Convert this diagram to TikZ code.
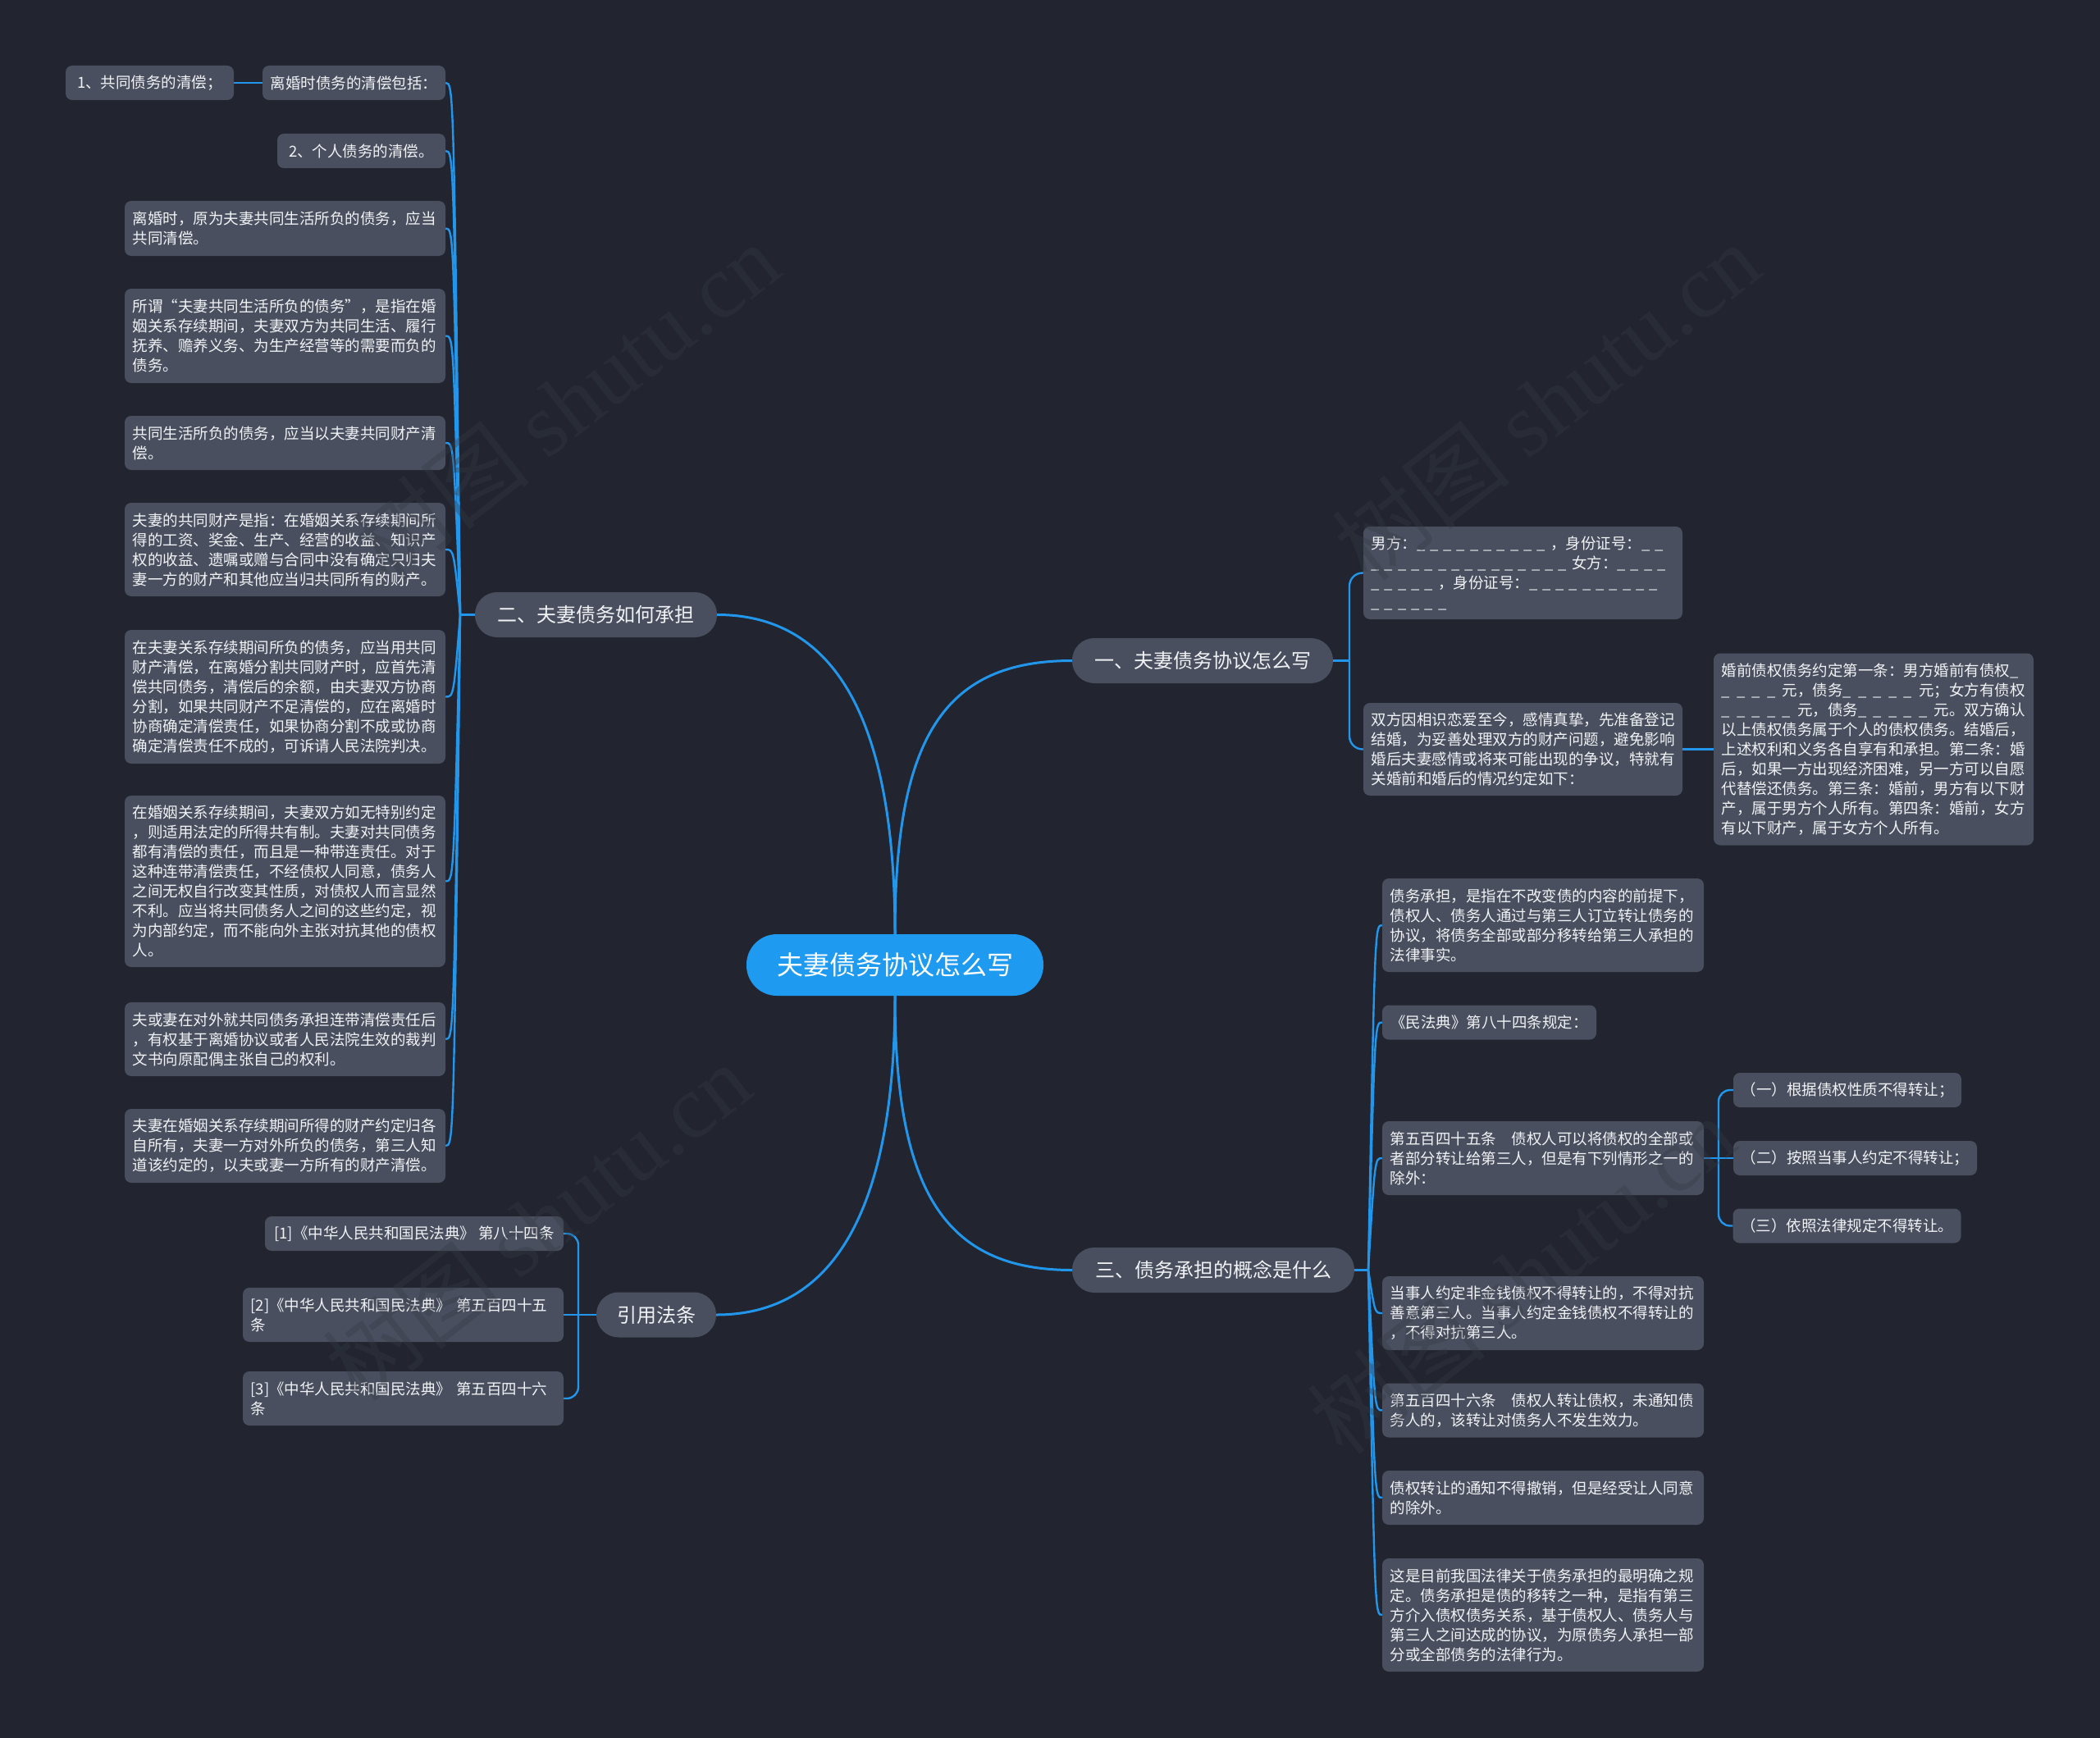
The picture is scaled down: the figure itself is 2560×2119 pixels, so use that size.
\documentclass[tikz,border=0pt]{standalone}
\usepackage{fontspec}
\setmainfont{Noto Sans CJK SC}
\newfontfamily\wmserif{Liberation Serif}
\usetikzlibrary{calc}
\definecolor{bgc}{RGB}{34,37,48}
\definecolor{leafc}{RGB}{73,79,94}
\definecolor{ctrc}{RGB}{30,155,240}
\definecolor{linec}{RGB}{33,150,235}
\definecolor{txtc}{RGB}{240,242,245}
\definecolor{wmc}{RGB}{54,58,70}
\newcommand{\blka}{\makebox[16.3pt][l]{\_}}
\newcommand{\blkaV}{\blka\blka\blka\blka\blka}
\newcommand{\blkc}{\makebox[18.5pt][l]{\_}}
\newcommand{\blkcV}{\blkc\blkc\blkc\blkc\blkc}
\begin{document}
\begin{tikzpicture}[x=1pt,y=-1pt,
  leaf/.style={fill=leafc, rounded corners=8pt, text=txtc, inner xsep=9.5pt, inner ysep=0pt, align=left, font=\fontsize{18.5}{24}\selectfont},
  branch/.style={fill=leafc, rounded corners=27pt, text=txtc, inner sep=0pt, font=\fontsize{24}{28}\selectfont, minimum height=55pt},
  conn/.style={draw=linec, line width=2.4pt},
  mainconn/.style={draw=linec, line width=3pt},
  wm/.style={text=wmc, opacity=0.35, rotate=38, font=\fontsize{110}{120}\selectfont}
]
\useasboundingbox (0,0) rectangle (2560,2119);
\fill[bgc] (0,0) rectangle (2560,2119);

% centre and branches
\node[fill=ctrc, rounded corners=37pt, text=white, inner sep=0pt, minimum width=362pt, minimum height=75pt, font=\fontsize{32}{36}\selectfont] (ctr) at (1091,1176.5) {夫妻债务协议怎么写};
\node[branch, minimum width=295pt] (b2) at (726.5,749.5) {二、夫妻债务如何承担};
\node[branch, minimum width=318pt] (b1) at (1466,805.5) {一、夫妻债务协议怎么写};
\node[branch, minimum width=344pt] (b3) at (1479,1548.5) {三、债务承担的概念是什么};
\node[branch, minimum width=146pt] (bref) at (800,1603) {引用法条};

% left leaves
\node[leaf, minimum width=223pt, minimum height=42pt] (l1) at (431.5,101) {离婚时债务的清偿包括：};
\node[leaf, minimum width=205pt, minimum height=42pt] (l0) at (182.5,101) {1、共同债务的清偿；};
\node[leaf, minimum width=205pt, minimum height=42pt] (l2) at (440.5,184) {2、个人债务的清偿。};
\node[leaf, text width=372pt, minimum height=67pt] (l3) at (347.5,278.5) {离婚时，原为夫妻共同生活所负的债务，应当\\共同清偿。};
\node[leaf, text width=372pt, minimum height=115pt] (l4) at (347.5,409.5) {所谓“夫妻共同生活所负的债务”，是指在婚\\姻关系存续期间，夫妻双方为共同生活、履行\\抚养、赡养义务、为生产经营等的需要而负的\\债务。};
\node[leaf, text width=372pt, minimum height=66pt] (l5) at (347.5,540) {共同生活所负的债务，应当以夫妻共同财产清\\偿。};
\node[leaf, text width=372pt, minimum height=114pt] (l6) at (347.5,670) {夫妻的共同财产是指：在婚姻关系存续期间所\\得的工资、奖金、生产、经营的收益、知识产\\权的收益、遗嘱或赠与合同中没有确定只归夫\\妻一方的财产和其他应当归共同所有的财产。};
\node[leaf, text width=372pt, minimum height=163pt] (l7) at (347.5,849.5) {在夫妻关系存续期间所负的债务，应当用共同\\财产清偿，在离婚分割共同财产时，应首先清\\偿共同债务，清偿后的余额，由夫妻双方协商\\分割，如果共同财产不足清偿的，应在离婚时\\协商确定清偿责任，如果协商分割不成或协商\\确定清偿责任不成的，可诉请人民法院判决。};
\node[leaf, text width=372pt, minimum height=209pt] (l8) at (347.5,1074.5) {在婚姻关系存续期间，夫妻双方如无特别约定\\，则适用法定的所得共有制。夫妻对共同债务\\都有清偿的责任，而且是一种带连责任。对于\\这种连带清偿责任，不经债权人同意，债务人\\之间无权自行改变其性质，对债权人而言显然\\不利。应当将共同债务人之间的这些约定，视\\为内部约定，而不能向外主张对抗其他的债权\\人。};
\node[leaf, text width=372pt, minimum height=90pt] (l9) at (347.5,1267) {夫或妻在对外就共同债务承担连带清偿责任后\\，有权基于离婚协议或者人民法院生效的裁判\\文书向原配偶主张自己的权利。};
\node[leaf, text width=372pt, minimum height=90pt] (l10) at (347.5,1397) {夫妻在婚姻关系存续期间所得的财产约定归各\\自所有，夫妻一方对外所负的债务，第三人知\\道该约定的，以夫或妻一方所有的财产清偿。};

% branch one leaves
\node[leaf, text width=370pt, minimum height=113pt] (a1) at (1856.5,698.5) {男方：\blkaV\blkaV{}，身份证号：\blka\blka\\\blkaV\blkaV\blkaV{}女方：\blka\blka\blka\blka\\\blkaV{}，身份证号：\blkaV\blkaV\\\blkaV\blka};
\node[leaf, text width=370pt, minimum height=113pt] (a2) at (1856.5,913.5) {双方因相识恋爱至今，感情真挚，先准备登记\\结婚，为妥善处理双方的财产问题，避免影响\\婚后夫妻感情或将来可能出现的争议，特就有\\关婚前和婚后的情况约定如下：};
\node[leaf, text width=371pt, minimum height=234pt] (a3) at (2284,913.5) {婚前债权债务约定第一条：男方婚前有债权\blkc\\\blkc\blkc\blkc\blkc{}元，债务\blkcV{}元；女方有债权\\\blkcV{}元，债务\blkcV{}元。双方确认\\以上债权债务属于个人的债权债务。结婚后，\\上述权利和义务各自享有和承担。第二条：婚\\后，如果一方出现经济困难，另一方可以自愿\\代替偿还债务。第三条：婚前，男方有以下财\\产，属于男方个人所有。第四条：婚前，女方\\有以下财产，属于女方个人所有。};

% branch three leaves
\node[leaf, text width=373pt, minimum height=114pt] (s1) at (1881,1128) {债务承担，是指在不改变债的内容的前提下，\\债权人、债务人通过与第三人订立转让债务的\\协议，将债务全部或部分移转给第三人承担的\\法律事实。};
\node[leaf, minimum width=261pt, minimum height=42pt] (s2) at (1815.5,1246.5) {《民法典》第八十四条规定：};
\node[leaf, text width=373pt, minimum height=90pt] (s3) at (1881,1412) {第五百四十五条　债权人可以将债权的全部或\\者部分转让给第三人，但是有下列情形之一的\\除外：};
\node[leaf, text width=373pt, minimum height=90pt] (s4) at (1881,1601) {当事人约定非金钱债权不得转让的，不得对抗\\善意第三人。当事人约定金钱债权不得转让的\\，不得对抗第三人。};
\node[leaf, text width=373pt, minimum height=66pt] (s5) at (1881,1719.5) {第五百四十六条　债权人转让债权，未通知债\\务人的，该转让对债务人不发生效力。};
\node[leaf, text width=373pt, minimum height=66pt] (s6) at (1881,1826) {债权转让的通知不得撤销，但是经受让人同意\\的除外。};
\node[leaf, text width=373pt, minimum height=138pt] (s7) at (1881,1969) {这是目前我国法律关于债务承担的最明确之规\\定。债务承担是债的移转之一种，是指有第三\\方介入债权债务关系，基于债权人、债务人与\\第三人之间达成的协议，为原债务人承担一部\\分或全部债务的法律行为。};

\node[leaf, minimum width=278pt, minimum height=42pt] (g1) at (2252,1329) {（一）根据债权性质不得转让；};
\node[leaf, minimum width=297pt, minimum height=42pt] (g2) at (2261.5,1412) {（二）按照当事人约定不得转让；};
\node[leaf, minimum width=277pt, minimum height=42pt] (g3) at (2251.5,1494.5) {（三）依照法律规定不得转让。};

% references
\node[leaf, minimum width=364pt, minimum height=42pt] (r1) at (505,1504) {[1]《中华人民共和国民法典》~第八十四条};
\node[leaf, text width=372pt, minimum height=66pt] (r2) at (491.5,1603) {[2]《中华人民共和国民法典》~第五百四十五\\条};
\node[leaf, text width=372pt, minimum height=66pt] (r3) at (491.5,1705) {[3]《中华人民共和国民法典》~第五百四十六\\条};

% main connectors
\draw[mainconn] (ctr.north) .. controls (1091,900) and (1030,749.5) .. (b2.east);
\draw[mainconn] (ctr.north) .. controls (1091,900) and (1150,805.5) .. (b1.west);
\draw[mainconn] (ctr.south) .. controls (1091,1450) and (1150,1548.5) .. (b3.west);
\draw[mainconn] (ctr.south) .. controls (1091,1450) and (1030,1603) .. (bref.east);

% branch two connectors
\coordinate (J2) at (561,749.5);
\coordinate (K2) at (553,749.5);
\draw[conn] (b2.west) -- (J2);
\foreach \n in {l1,l2,l3,l4,l5,l6,l7,l8,l9,l10}
  \draw[conn] (J2) .. controls (K2 |- \n.east) .. (\n.east);
\draw[conn] (l1.west) -- (l0.east);

% branch one connectors
\coordinate (J1) at (1645,805.5);
\draw[conn] (b1.east) -- (J1);
\draw[conn, rounded corners=16pt] (J1) |- (a1.west);
\draw[conn, rounded corners=16pt] (J1) |- (a2.west);
\draw[conn] (a2.east) -- (a3.west);

% branch three connectors
\coordinate (J3) at (1668,1548.5);
\coordinate (K3) at (1676,1548.5);
\draw[conn] (b3.east) -- (J3);
\foreach \n in {s1,s2,s3,s4,s5,s6,s7}
  \draw[conn] (J3) .. controls (K3 |- \n.west) .. (\n.west);

\coordinate (JF) at (2095,1412);
\draw[conn] (s3.east) -- (JF);
\draw[conn, rounded corners=14pt] (JF) |- (g1.west);
\draw[conn] (JF) -- (g2.west);
\draw[conn, rounded corners=14pt] (JF) |- (g3.west);

% references connectors
\coordinate (JR) at (705,1603);
\draw[conn] (bref.west) -- (JR);
\draw[conn, rounded corners=14pt] (JR) |- (r1.east);
\draw[conn] (JR) -- (r2.east);
\draw[conn, rounded corners=14pt] (JR) |- (r3.east);

% watermarks
\node[wm] (w1) at (690,490) {树图 {\wmserif shutu.cn}};
\node[wm] (w2) at (1885,490) {树图 {\wmserif shutu.cn}};
\node[wm] (w3) at (655,1490) {树图 {\wmserif shutu.cn}};
\node[wm] (w4) at (1855,1555) {树图 {\wmserif shutu.cn}};
\end{tikzpicture}
\end{document}
